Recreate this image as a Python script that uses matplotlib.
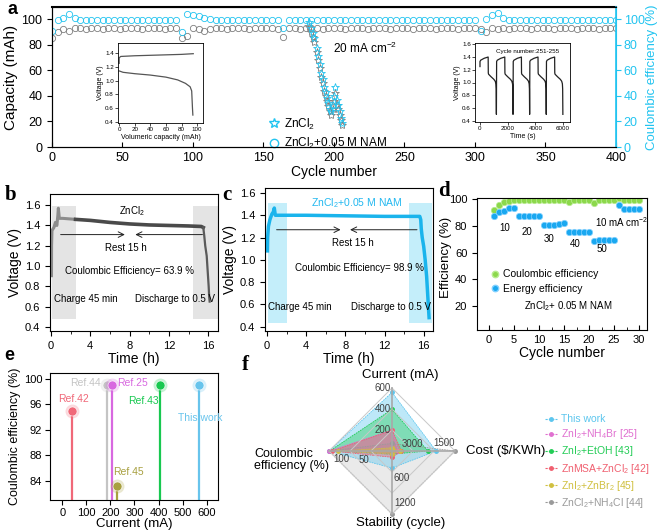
import numpy as np
import matplotlib
matplotlib.use("Agg")
import matplotlib.pyplot as plt
from matplotlib.lines import Line2D
from matplotlib.ticker import MultipleLocator

plt.rcParams['font.family'] = ['Liberation Sans', 'DejaVu Sans']
plt.rcParams['mathtext.default'] = 'regular'

W, H = 660, 532
CYAN = '#22c4f0'
GRAY = '#7f7f7f'

# ---------------- panel a data ----------------
a_cycles = np.arange(0, 401, 4)
cap_nam = [85, 90, 92, 91, 93, 93, 92.5, 93, 93, 92.5,
           93, 93, 92.5, 93, 93, 93, 92.5, 93, 93, 93,
           92.5, 93, 93, 85, 87, 93, 92, 91, 92, 93,
           93, 92.5, 93, 93, 93, 92.5, 93, 93, 93, 93,
           92.5, 86, 93, 93, 92.5, 93, 93, 93, 92.5, 93,
           93, 93, 92.5, 93, 93, 93, 92.5, 93, 93, 93,
           92.5, 93, 93, 93, 92.5, 93, 93, 93, 92.5, 93,
           93, 93, 92.5, 93, 93, 93, 92, 90, 93, 92,
           93, 92.5, 93, 93, 93, 92.5, 93, 93, 93, 92.5,
           93, 93, 93, 92.5, 93, 93, 93, 92.5, 93, 93,
           93]
ce_nam = [91, 99, 101, 104, 101, 99.5, 99, 99.5, 99, 99.5,
          99, 99.5, 99, 99, 99.5, 99, 99.5, 99, 99, 99.5,
          99, 99.5, 99, 90, 104, 103, 102, 101, 100, 99.5,
          99, 99.5, 99, 99, 99.5, 99, 99, 99.5, 99, 99,
          99.5, 93, 99, 99.5, 99, 99, 99.5, 99, 99, 99.5,
          99, 99.5, 99, 99, 99.5, 99, 99.5, 99, 99, 99.5,
          99, 99, 99.5, 99, 99, 99.5, 99, 99, 99.5, 99,
          99, 99.5, 99, 99, 99.5, 99, 91, 100, 103, 105,
          101, 99.5, 99, 99.5, 99, 99, 99.5, 99, 99, 99.5,
          99, 99.5, 99, 99, 99.5, 99, 99, 99.5, 99, 99,
          99]
zn_cycles = [182, 184, 185, 186, 188, 189, 190, 191, 192, 193, 194, 195,
             196, 197, 198, 199, 200, 201, 202, 203, 204, 205, 206]
zn_cap = [94, 90, 86, 82, 74, 68, 62, 55, 50, 44, 40, 36,
          32, 28, 25, 30, 36, 42, 33, 30, 25, 21, 17]
zn_ce = [98, 93, 89, 85, 77, 71, 65, 58, 53, 47, 43, 38,
         34, 30, 28, 33, 40, 47, 37, 33, 28, 23, 19]

ins1_cap_ch = [0, 0, 2, 20, 50, 80, 95]
ins1_v_ch = [1.25, 1.33, 1.35, 1.36, 1.37, 1.38, 1.39]
ins1_cap_dis = [0, 5, 20, 40, 60, 75, 85, 91, 93, 94, 94.5]
ins1_v_dis = [1.14, 1.12, 1.10, 1.08, 1.05, 1.01, 0.96, 0.91, 0.85, 0.6, 0.5]

ins2_t = [0, 1, 50, 300, 590, 600, 620, 800, 1000, 1100, 1150, 1170, 1185]
ins2_v = [1.25, 1.33, 1.35, 1.38, 1.40, 1.15, 1.13, 1.09, 1.05, 1.02, 0.98, 0.9, 0.5]
ins2_starts = [0, 1200, 2400, 3600, 4800]

# ---------------- panel b / c data ----------------
b_t = [0.05, 0.06, 0.1, 0.3, 0.45, 0.6, 0.7, 0.75, 0.85, 1.2, 2.5]
b_v = [0.89, 1.2, 1.35, 1.38, 1.43, 1.40, 1.5, 1.57, 1.47, 1.47, 1.46]
b_t2 = [2.5, 4, 6, 8, 10, 12, 14, 15.3, 15.5]
b_v2 = [1.46, 1.45, 1.43, 1.415, 1.405, 1.40, 1.395, 1.39, 1.38]
b_t3 = [15.5, 15.6, 15.7, 15.85, 15.95, 16.05, 16.1, 16.15]
b_v3 = [1.38, 1.3, 1.2, 1.1, 0.95, 0.8, 0.7, 0.65]

c_t = [0.05, 0.07, 0.15, 0.3, 0.5, 0.65, 0.75, 0.85, 1.5, 4, 8, 12, 15.6,
       15.7, 15.75, 15.85, 16.0, 16.15, 16.3, 16.4, 16.5, 16.55]
c_v = [1.08, 1.2, 1.3, 1.36, 1.41, 1.43, 1.465, 1.40, 1.40, 1.40, 1.395, 1.39, 1.39,
       1.36, 1.28, 1.2, 1.12, 1.0, 0.85, 0.7, 0.55, 0.48]

# ---------------- panel d data ----------------
d_cycles = np.arange(1, 31)
d_ce = [92, 95.5, 97.5, 98.5, 99, 99, 99, 99.3, 99.3, 99.3,
        99.3, 99.3, 99.3, 99.3, 99.3, 98, 99, 99.3, 99.3, 99.3,
        97, 99, 99.3, 99.3, 99.3, 100.5, 99.3, 99.3, 99.3, 99.3]
d_ee = [87, 90.5, 91, 93, 93, 87.7, 87.7, 87.7, 87.5, 87.2,
        80.8, 80.8, 81, 81.5, 82, 75.5, 75.7, 75.7, 75.7, 75.7,
        69, 69.5, 69.5, 69.5, 69.5, 95.5, 92.5, 92.5, 92.5, 92.5]
d_rates = ['10', '20', '30', '40', '50']

# ---------------- panel e data ----------------
e_names = ['Ref.42', 'Ref.44', 'Ref.25', 'Ref.45', 'Ref.43', 'This work']
e_current = [40, 185, 205, 228, 405, 570]
e_ce = [95, 99, 99, 83.2, 99, 99]
e_colors = ['#f06878', '#c4c4c4', '#d868e0', '#a8a040', '#18c850', '#68c4ec']

# ---------------- panel f data ----------------
f_axes = ['Current (mA)', 'Cost (\\$/KWh)', 'Stability (cycle)', 'Coulombic\nefficiency (%)']
f_names = ['This work', 'ZnI$_2$+NH$_4$Br [25]', 'ZnI$_2$+EtOH [43]',
           'ZnMSA+ZnCl$_2$ [42]', 'ZnI$_2$+ZnBr$_2$ [45]', 'ZnCl$_2$+NH$_4$Cl [44]']
f_colors = ['#5cc6ee', '#e070d0', '#22cc55', '#f06070', '#d0c040', '#9a9a9a']
# scores read on the diamond (top, right, bottom, left), 1 = outer ring
f_scores = [[0.93, 0.70, 0.27, 1.00],
            [0.33, 0.10, 0.05, 1.00],
            [0.66, 0.57, 0.05, 0.99],
            [0.33, 0.15, 0.10, 0.95],
            [0.05, 0.12, 0.05, 0.85],
            [0.12, 1.00, 1.00, 1.00]]

fig = plt.figure(figsize=(6.6, 5.32), dpi=100)


def box(l, t, r, b):
    return fig.add_axes([l / W, 1 - b / H, (r - l) / W, (b - t) / H])


def ftext(x, y, s, **kw):
    fig.text(x / W, 1 - y / H, s, **kw)


# ================= a =================
ax = box(52, 7, 616, 147)
ax.plot(a_cycles, cap_nam, 'o', mfc='none', mec=GRAY, ms=4.5, mew=0.6)
ax.plot(a_cycles, ce_nam, 'o', mfc='none', mec=CYAN, ms=4.5, mew=0.6)
ax.plot(zn_cycles, zn_cap, '*', mfc='none', mec=GRAY, ms=6, mew=0.6)
ax.plot(zn_cycles, zn_ce, '*', mfc='none', mec=CYAN, ms=6, mew=0.6)
ax.set_xlim(0, 400)
ax.set_ylim(0, 109.4)
ax.set_yticks(range(0, 101, 20))
ax.xaxis.set_minor_locator(MultipleLocator(50))
ax.tick_params(axis='x', which='both', direction='in', labelsize=9)
ax.tick_params(axis='y', labelsize=9)
ax.spines['right'].set_color(CYAN)
ax.spines['top'].set_linewidth(1.5)
ax.set_xlabel('Cycle number', fontsize=10, labelpad=1)
ax.set_ylabel('Capacity (mAh)', fontsize=11, labelpad=2)
ax2 = ax.twinx()
ax2.set_ylim(0, 109.4)
ax2.set_yticks(range(0, 101, 20))
ax2.tick_params(axis='y', colors=CYAN, labelsize=9, pad=2)
ax2.spines['right'].set_color(CYAN)
ax2.spines['right'].set_linewidth(1.2)
ax2.set_ylabel('Coulombic efficiency (%)', fontsize=9.5, color=CYAN, labelpad=1)
ax.text(199, 77, '20 mA cm$^{-2}$', fontsize=8.5, va='center')
hs = [Line2D([], [], marker='*', ls='none', mfc='none', mec=CYAN, ms=7),
      Line2D([], [], marker='o', ls='none', mfc='none', mec=CYAN, ms=6)]
ax.legend(hs, ['ZnCl$_2$', 'ZnCl$_2$+0.05 M NAM'], loc='upper left',
          bbox_to_anchor=(0.37, 0.26), frameon=False, fontsize=8.5,
          handletextpad=0.3, labelspacing=0.4, borderpad=0, handlelength=1.2)

ia = box(118, 43, 203, 123)
ia.plot(ins1_cap_ch, ins1_v_ch, color='#555555', lw=0.9)
ia.plot(ins1_cap_dis, ins1_v_dis, color='#555555', lw=0.9)
ia.set_xlim(-1.5, 107.5)
ia.set_ylim(0.385, 1.545)
ia.set_xticks(range(0, 101, 20))
ia.set_yticks([0.4, 0.6, 0.8, 1.0, 1.2, 1.4])
ia.tick_params(labelsize=4.5, length=2, width=0.5, pad=1)
ia.set_xlabel('Volumeric capacity (mAh)', fontsize=5, labelpad=1)
ia.set_ylabel('Voltage (V)', fontsize=5, labelpad=1)
for s in ia.spines.values():
    s.set_linewidth(0.6)

ib = box(475, 43, 570, 122)
tt, vv = [], []
for st in ins2_starts:
    tt += [st + t for t in ins2_t]
    vv += ins2_v
ib.plot(tt, vv, color='#222222', lw=0.9)
ib.set_xlim(-360, 6500)
ib.set_ylim(0.38, 1.62)
ib.set_xticks([0, 2000, 4000, 6000])
ib.set_yticks([0.4, 0.6, 0.8, 1.0, 1.2, 1.4, 1.6])
ib.tick_params(labelsize=4.5, length=2, width=0.5, pad=1)
ib.set_xlabel('Time (s)', fontsize=5, labelpad=1)
ib.set_ylabel('Voltage (V)', fontsize=5, labelpad=1)
ib.text(0.55, 0.93, 'Cycle number:251-255', transform=ib.transAxes,
        fontsize=4.5, ha='center', va='top')
for s in ib.spines.values():
    s.set_linewidth(0.6)

# ================= b =================
TXT = 7
bx = box(50, 194, 218, 331)
bx.axvspan(0.1, 2.5, ymin=(0.48 - 0.36) / 1.35, ymax=(1.59 - 0.36) / 1.35,
           color='#e4e4e4', lw=0)
bx.axvspan(14.5, 17, ymin=(0.48 - 0.36) / 1.35, ymax=(1.59 - 0.36) / 1.35,
           color='#e4e4e4', lw=0)
bx.plot(b_t, b_v, color='#8c8c8c', lw=2.2, solid_capstyle='butt')
bx.plot(b_t2, b_v2, color='#4a4a4a', lw=2.6)
bx.plot(b_t3, b_v3, color='#5a5a5a', lw=1.6)
bx.annotate('', xy=(7.8, 1.31), xytext=(0.7, 1.31),
            arrowprops=dict(arrowstyle='->', lw=0.7, color='#222222'))
bx.annotate('', xy=(8.3, 1.31), xytext=(15.7, 1.31),
            arrowprops=dict(arrowstyle='->', lw=0.7, color='#222222'))
bx.text(7.6, 1.18, 'Rest 15 h', fontsize=TXT, ha='center', va='center')
bx.text(8.3, 1.54, 'ZnCl$_2$', fontsize=TXT, ha='center', va='center')
bx.text(8.0, 0.95, 'Coulombic Efficiency= 63.9 %', fontsize=TXT, ha='center', va='center')
bx.text(0.3, 0.68, 'Charge 45 min', fontsize=TXT, ha='left', va='center')
bx.text(16.7, 0.68, 'Discharge to 0.5 V', fontsize=TXT, ha='right', va='center')
bx.set_xlim(-0.1, 17)
bx.set_ylim(0.36, 1.71)
bx.set_xticks([0, 4, 8, 12, 16])
bx.xaxis.set_minor_locator(MultipleLocator(2))
bx.set_yticks([0.4, 0.6, 0.8, 1.0, 1.2, 1.4, 1.6])
bx.tick_params(labelsize=8)
bx.set_xlabel('Time (h)', fontsize=10, labelpad=1)
bx.set_ylabel('Voltage (V)', fontsize=10, labelpad=2)

# ================= c =================
cx = box(265, 188, 433, 331)
cx.axvspan(0.1, 2.0, ymin=(0.43 - 0.36) / 1.285, ymax=(1.51 - 0.36) / 1.285,
           color='#c4eefa', lw=0)
cx.axvspan(14.5, 16.8, ymin=(0.43 - 0.36) / 1.285, ymax=(1.51 - 0.36) / 1.285,
           color='#c4eefa', lw=0)
cx.plot(c_t, c_v, color='#1ab4ec', lw=2.5)
cx.annotate('', xy=(7.8, 1.27), xytext=(0.7, 1.27),
            arrowprops=dict(arrowstyle='->', lw=0.7, color='#222222'))
cx.annotate('', xy=(8.2, 1.27), xytext=(15.6, 1.27),
            arrowprops=dict(arrowstyle='->', lw=0.7, color='#222222'))
cx.text(8.8, 1.15, 'Rest 15 h', fontsize=TXT, ha='center', va='center')
cx.text(9.2, 1.51, 'ZnCl$_2$+0.05 M NAM', fontsize=TXT + 0.5, color='#22b8f0', ha='center', va='center')
cx.text(9.4, 0.93, 'Coulombic Efficiency= 98.9 %', fontsize=TXT, ha='center', va='center')
cx.text(0.1, 0.58, 'Charge 45 min', fontsize=TXT, ha='left', va='center')
cx.text(16.7, 0.58, 'Discharge to 0.5 V', fontsize=TXT, ha='right', va='center')
cx.set_xlim(-0.2, 16.95)
cx.set_ylim(0.36, 1.645)
cx.set_xticks([0, 4, 8, 12, 16])
cx.xaxis.set_minor_locator(MultipleLocator(2))
cx.set_yticks([0.4, 0.6, 0.8, 1.0, 1.2, 1.4, 1.6])
cx.tick_params(labelsize=8)
cx.set_xlabel('Time (h)', fontsize=10, labelpad=1)
cx.set_ylabel('Voltage (V)', fontsize=10, labelpad=2)

# ================= d =================
dx = box(477, 198, 647, 330)
dx.plot(d_cycles, d_ce, 'o', color='#8cd84c', mec='#b8ec90', mew=0.5, ms=4.6)
dx.plot(d_cycles, d_ee, 'o', color='#1aa8f0', mec='#80d0ff', mew=0.5, ms=4.6)
for lab, x, y in zip(d_rates, [3.2, 7.6, 12.0, 17.2, 22.6], [78.5, 75.5, 70.3, 66.5, 62.8]):
    dx.text(x, y, lab, fontsize=TXT, ha='center', va='center')
dx.text(26.6, 83, '10 mA cm$^{-2}$', fontsize=TXT, ha='center', va='center')
dx.text(15.8, 19.7, 'ZnCl$_2$+ 0.05 M NAM', fontsize=TXT, ha='center', va='center')
hd = [Line2D([], [], marker='o', ls='none', color='#8cd84c', mec='#b8ec90', ms=4.6),
      Line2D([], [], marker='o', ls='none', color='#1aa8f0', mec='#80d0ff', ms=4.6)]
dx.legend(hd, ['Coulombic efficiency', 'Energy efficiency'], loc='upper left',
          bbox_to_anchor=(0.05, 0.5), frameon=False, fontsize=TXT + 0.5,
          handletextpad=0.4, labelspacing=0.45, borderpad=0, handlelength=0.8)
dx.set_xlim(-2.4, 31.6)
dx.set_ylim(2.2, 100.8)
dx.set_xticks(range(0, 31, 5))
dx.xaxis.set_minor_locator(MultipleLocator(2.5))
dx.set_yticks(range(20, 101, 20))
dx.tick_params(axis='x', which='both', direction='in')
dx.tick_params(labelsize=8)
dx.set_xlabel('Cycle number', fontsize=10, labelpad=1)
dx.set_ylabel('Efficiency (%)', fontsize=9.5, labelpad=2)
dx.yaxis.set_label_coords(-0.15, 0.55)

# ================= e =================
ex = box(50, 373, 218, 500)
for x, y, c in zip(e_current, e_ce, e_colors):
    ex.vlines(x, 81, y, color=c, lw=1.6)
for x, y, c in zip(e_current, e_ce, e_colors):
    ex.plot(x, y, 'o', color=c, ms=10, alpha=0.25, mew=0)
    ex.plot(x, y, 'o', color=c, ms=6.5, mec='white', mew=0.4)
e_lab_xy = [(47, 96.8, 'center'), (160, 99.4, 'right'), (228, 99.4, 'left'),
            (275, 85.4, 'center'), (339, 96.5, 'center'), (575, 93.9, 'center')]
for name, (x, y, ha), c in zip(e_names, e_lab_xy, e_colors):
    ex.text(x, y, name, fontsize=TXT + 0.5, color=c, ha=ha, va='center')
ex.set_xlim(-51, 647)
ex.set_ylim(81.0, 100.9)
ex.set_xticks(range(0, 601, 100))
ex.set_yticks(range(84, 101, 4))
ex.tick_params(labelsize=8, pad=2)
ex.set_xlabel('Current (mA)', fontsize=9.5, labelpad=0)
ex.set_ylabel('Coulombic efficiency (%)', fontsize=9, labelpad=2)

# ================= f =================
fx = box(322, 381, 462, 521)
lim = 70 / 63
fx.set_xlim(-lim, lim)
fx.set_ylim(-lim, lim)
fx.axis('off')
dirs = [(0, 1), (1, 0), (0, -1), (-1, 0)]
order = [5, 0, 2, 1, 3, 4]
for i in order:
    sc = f_scores[i]
    xs = [sc[k] * dirs[k][0] for k in range(4)]
    ys = [sc[k] * dirs[k][1] for k in range(4)]
    alpha = 0.2 if i == 5 else 0.4
    fx.fill(xs, ys, color=f_colors[i], alpha=alpha, lw=0)
    fx.plot(xs + xs[:1], ys + ys[:1], color=f_colors[i], lw=0.6, ls=(0, (2, 1)))
    fx.plot(xs, ys, 'o', color=f_colors[i], ms=2.5)
for r in (1 / 3, 2 / 3, 1):
    fx.plot([0, r, 0, -r, 0], [r, 0, -r, 0, r], color='#c8c8c8', lw=0.7)
fx.plot([-1, 1], [0, 0], color='#a8a8a8', lw=1.2)
fx.plot([0, 0], [-1, 1], color='#a8a8a8', lw=1.2)
tk = dict(fontsize=7, color='#404040')
fx.text(-0.02, 1 / 3, '200', ha='right', va='center', **tk)
fx.text(-0.02, 2 / 3, '400', ha='right', va='center', **tk)
fx.text(-0.02, 1.0, '600', ha='right', va='center', **tk)
fx.text(0.33, 0.03, '3000', ha='center', va='bottom', **tk)
fx.text(0.83, 0.05, '1500', ha='center', va='bottom', **tk)
fx.text(-0.8, -0.05, '100', ha='center', va='top', **tk)
fx.text(-0.44, -0.06, '50', ha='center', va='top', **tk)
fx.text(0.03, -0.43, '600', ha='left', va='center', **tk)
fx.text(0.03, -0.83, '1200', ha='left', va='center', **tk)
ftext(400, 375, f_axes[0], fontsize=9.5, ha='center', va='center')
ftext(466, 451, f_axes[1], fontsize=9.5, ha='left', va='center')
ftext(401, 523, f_axes[2], fontsize=9.5, ha='center', va='center')
ftext(254, 460, f_axes[3], fontsize=9, ha='left', va='center', linespacing=1.1)
hf = [Line2D([], [], color=c, marker='o', ms=2.5, lw=0.8, ls=(0, (2, 1))) for c in f_colors]
fig.legend(hf, f_names, loc='upper left', bbox_to_anchor=(540 / W, 1 - 409 / H),
           frameon=False, fontsize=7.5, labelcolor=f_colors, handlelength=1.1,
           handletextpad=0.4, labelspacing=0.3, borderpad=0)

# ---------------- panel letters ----------------
ftext(8, 10, 'a', fontsize=13, fontweight='bold', va='center')
ftext(5, 195, 'b', fontsize=15, fontweight='bold', va='center', family='Liberation Serif')
ftext(222, 195, 'c', fontsize=15, fontweight='bold', va='center', family='Liberation Serif')
ftext(438, 191, 'd', fontsize=15, fontweight='bold', va='center', family='Liberation Serif')
ftext(4, 356, 'e', fontsize=13, fontweight='bold', va='center')
ftext(242, 365, 'f', fontsize=15, fontweight='bold', va='center', family='Liberation Serif')

fig.savefig('out.png', dpi=100)
